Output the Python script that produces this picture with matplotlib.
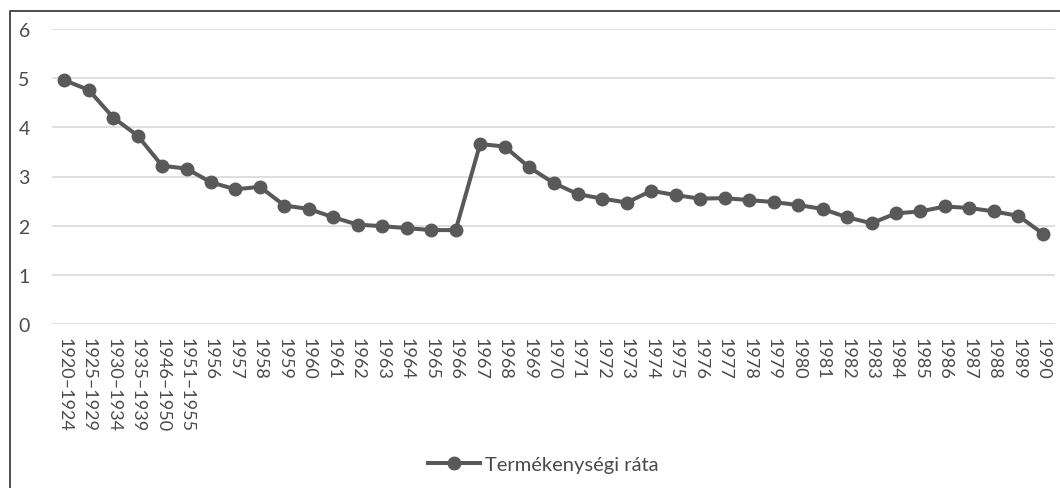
import matplotlib.pyplot as plt
from matplotlib.lines import Line2D

plt.rcParams['font.family'] = ['Lato', 'DejaVu Sans']

periods = ['1920–1924', '1925–1929', '1930–1934', '1935–1939', '1946–1950', '1951–1955',
           '1956', '1957', '1958', '1959', '1960', '1961', '1962', '1963', '1964', '1965',
           '1966', '1967', '1968', '1969', '1970', '1971', '1972', '1973', '1974', '1975',
           '1976', '1977', '1978', '1979', '1980', '1981', '1982', '1983', '1984', '1985',
           '1986', '1987', '1988', '1989', '1990']
fertility = [4.96, 4.76, 4.20, 3.83, 3.22, 3.16,
             2.88, 2.74, 2.79, 2.41, 2.34, 2.17, 2.02, 1.99, 1.95, 1.91,
             1.91, 3.66, 3.61, 3.19, 2.87, 2.64, 2.55, 2.47, 2.71, 2.62,
             2.55, 2.56, 2.52, 2.48, 2.42, 2.34, 2.17, 2.05, 2.25, 2.29,
             2.39, 2.36, 2.29, 2.20, 1.84]
series_name = 'Termékenységi ráta'

line_col = '#595959'
text_col = '#4a4a4a'

fig = plt.figure(figsize=(10.6, 4.89), dpi=100)
ax = fig.add_axes([52 / 1060, 1 - 325 / 489, (1055 - 52) / 1060, (325 - 30) / 489])

x = list(range(len(periods)))
ax.plot(x, fertility, color=line_col, lw=2.9, marker='o', markersize=9,
        markerfacecolor=line_col, markeredgecolor=line_col, label=series_name, zorder=3)

ax.set_xlim(-0.5, len(periods) - 0.5)
ax.set_ylim(0, 6)
ax.set_yticks(range(0, 7))
ax.set_xticks(x)
ax.set_xticklabels(periods, rotation=-90, va='top', ha='center')
ax.grid(axis='y', color='#d9d9d9', lw=1.2)
ax.set_axisbelow(True)
for s in ax.spines.values():
    s.set_visible(False)
ax.tick_params(axis='both', length=0, colors=text_col, labelsize=13)
ax.tick_params(axis='y', pad=16, labelsize=14)
ax.tick_params(axis='x', pad=9)

# outer frame (top and left edges visible in the original crop)
fig.add_artist(Line2D([10 / 1060, 10 / 1060, 1], [0, 1 - 12 / 489, 1 - 12 / 489],
                      transform=fig.transFigure, color='#404040', lw=1.3))

fig.legend(loc='center', bbox_to_anchor=(543 / 1060, 1 - 465 / 489), frameon=False,
           fontsize=14.5, handlelength=2.6, labelcolor=text_col, handletextpad=0.25)

fig.savefig('out.png', dpi=100)
